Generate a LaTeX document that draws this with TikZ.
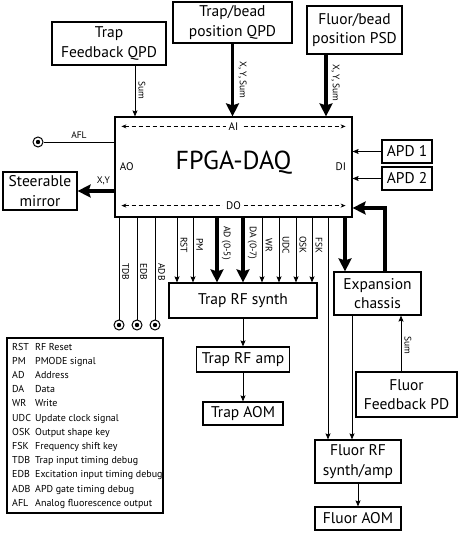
\documentclass[tikz,border=0pt]{standalone}
\usepackage{fontspec}
\setmainfont{PT Sans}
\usetikzlibrary{calc,arrows.meta}

\tikzset{
  box/.style={draw,line width=1.2pt,align=center,inner sep=0pt,font=\fontsize{15.5}{19.5}\selectfont},
  sig/.style={line width=0.8pt,-{Stealth[length=6pt,width=5pt,inset=1pt]}},
  bus/.style={line width=3.6pt,-{Stealth[length=13pt,width=13pt,inset=2pt]}},
  wire/.style={line width=0.8pt},
  tag/.style={font=\fontsize{9.5}{10}\selectfont,rotate=-90,anchor=south,inner sep=1.2pt},
  jack/.style={circle,draw,line width=1pt,minimum size=10pt,inner sep=0pt,
    path picture={\fill (path picture bounding box.center) circle (2.2pt);}},
  port/.style={font=\fontsize{11}{12}\selectfont},
  legtxt/.style={font=\fontsize{10}{11}\selectfont,inner sep=0pt,anchor=base west}
}

\begin{document}
\begin{tikzpicture}[x=1pt,y=-1pt]
\useasboundingbox (0,0) rectangle (460,534);

% FPGA
\node[box,minimum width=237,minimum height=100] (fpga) at (233.5,167) {};
\node[font=\fontsize{26}{28}\selectfont] (title) at (233.5,163) {FPGA-DAQ};
\node[port,anchor=west] (ao) at ($(fpga.west)+(2,0)$) {AO};
\node[port,anchor=east] (di) at ($(fpga.east)+(-3,0)$) {DI};
\draw[dashed,dash pattern=on 4pt off 3pt,line width=0.7pt,{Stealth[length=5pt,width=4pt]}-{Stealth[length=5pt,width=4pt]}]
  ($(fpga.north west)+(7,10)$) -- ($(fpga.north east)+(-7,10)$)
  node[midway,port,fill=white,inner sep=3pt] (ai) {AI};
\draw[dashed,dash pattern=on 4pt off 3pt,line width=0.7pt,{Stealth[length=5pt,width=4pt]}-{Stealth[length=5pt,width=4pt]}]
  ($(fpga.south west)+(7,-12)$) -- ($(fpga.south east)+(-7,-12)$)
  node[midway,port,fill=white,inner sep=3pt] (do) {DO};

% detectors
\node[box,minimum width=114,minimum height=43] (tfqpd) at (109,43.5) {Trap\\Feedback QPD};
\node[box,minimum width=119,minimum height=41] (tbqpd) at (232.5,22.5) {Trap/bead\\position QPD};
\node[box,minimum width=95,minimum height=48] (fbpsd) at (354.5,30) {Fluor/bead\\position PSD};
\node[box,minimum width=74,minimum height=38] (mirror) at (40,191) {Steerable\\mirror};
\node[box,minimum width=50,minimum height=23] (apd1) at (407,151.5) {APD 1};
\node[box,minimum width=50,minimum height=23] (apd2) at (407,178.5) {APD 2};

% RF chain
\node[box,minimum width=148,minimum height=35] (synth) at (243,300.5) {Trap RF synth};
\node[box,minimum width=93,minimum height=25] (amp) at (243,359.5) {Trap RF amp};
\node[box,minimum width=80,minimum height=23] (aom) at (243,413.5) {Trap AOM};
\node[box,minimum width=87,minimum height=43] (exp) at (377.5,293.5) {Expansion\\chassis};
\node[box,minimum width=101,minimum height=45] (fpd) at (406.5,394.5) {Fluor\\Feedback PD};
\node[box,minimum width=86,minimum height=43] (frf) at (358,461.5) {Fluor RF\\synth/amp};
\node[box,minimum width=86,minimum height=23] (faom) at (358,518.5) {Fluor AOM};

% jacks
\node[jack] (afl) at (38,142) {};
\node[jack] (tdb) at (119,325) {};
\node[jack] (edb) at (137,325) {};
\node[jack] (adb) at (155,325) {};

\coordinate (xsum) at (135,0);
\coordinate (xpsd) at (326,0);
\coordinate (xflu) at (328,0);
\coordinate (xexp) at (352,0);
\coordinate (xbus) at (345,0);
\coordinate (xret) at (385,0);
\coordinate (yret) at (0,208);
\coordinate (xfpd) at (401,0);

% inputs
\draw[sig] (tfqpd.south -| xsum) -- (fpga.north -| xsum);
\node[tag] (lsum1) at (137,90) {Sum};
\draw[bus] (tbqpd) -- (fpga.north -| tbqpd);
\node[tag] (lxy1) at (237,80) {X, Y, Sum};
\draw[bus] (fbpsd.south -| xpsd) -- (fpga.north -| xpsd);
\node[tag] (lxy2) at (330,83) {X, Y, Sum};
\draw[sig] (apd1) -- (fpga.east |- apd1);
\draw[sig] (apd2) -- (fpga.east |- apd2);

% outputs
\draw[wire] (afl) -- (fpga.west |- afl) node[midway,above,font=\fontsize{9.5}{10}\selectfont] (lafl) {AFL};
\draw[bus] (fpga.west |- mirror) -- (mirror) node[pos=0.3,above=1pt,font=\fontsize{9.5}{10}\selectfont] (lxy3) {X,Y};

\foreach \j/\x/\lab in {tdb/119/TDB,edb/137/EDB,adb/155/ADB}
{
  \draw[wire] (fpga.south -| \j) -- (\j);
  \node[tag] at (\x+2,272) {\lab};
}
\foreach \x/\lab in {177/RST,193/PM,262/WR,279/UDC,296/OSK,312/FSK}
{
  \coordinate (c) at (\x,0);
  \draw[sig] (fpga.south -| c) -- (synth.north -| c);
  \node[tag] at (\x+2,245) {\lab};
}
\foreach \x/\lab in {217/AD (0-5),243/DA (0-7)}
{
  \coordinate (c) at (\x,0);
  \draw[bus] (fpga.south -| c) -- (synth.north -| c);
  \node[tag] at (\x+3.5,243) {\lab};
}

% trap chain
\draw[sig] (synth) -- (amp);
\draw[sig] (amp) -- (aom);

% fluor chain
\draw[bus] (fpga.south -| xbus) -- (exp.north -| xbus);
\draw[bus] (exp.north -| xret) |- (fpga.east |- yret);
\draw[sig] (fpga.south -| xflu) -- (frf.north -| xflu);
\draw[sig] (exp.south -| xexp) -- (frf.north -| xexp);
\draw[sig] (fpd.north -| xfpd) -- (exp.south -| xfpd);
\node[tag] (lsum2) at (403,345) {Sum};
\draw[sig] (frf) -- (faom);

% legend
\draw[line width=1.2pt] (7,338) rectangle (163,513);
\foreach \ab/\txt [count=\i from 0] in {RST/RF Reset,PM/PMODE signal,AD/Address,DA/Data,WR/Write,
  UDC/Update clock signal,OSK/Output shape key,FSK/Frequency shift key,TDB/Trap input timing debug,
  EDB/Excitation input timing debug,ADB/APD gate timing debug,AFL/Analog fluorescence output}
{
  \node[legtxt] (ab\i) at (12,350+14.2*\i) {\ab};
  \node[legtxt] (tx\i) at (35,350+14.2*\i) {\txt};
}
\end{tikzpicture}
\end{document}
